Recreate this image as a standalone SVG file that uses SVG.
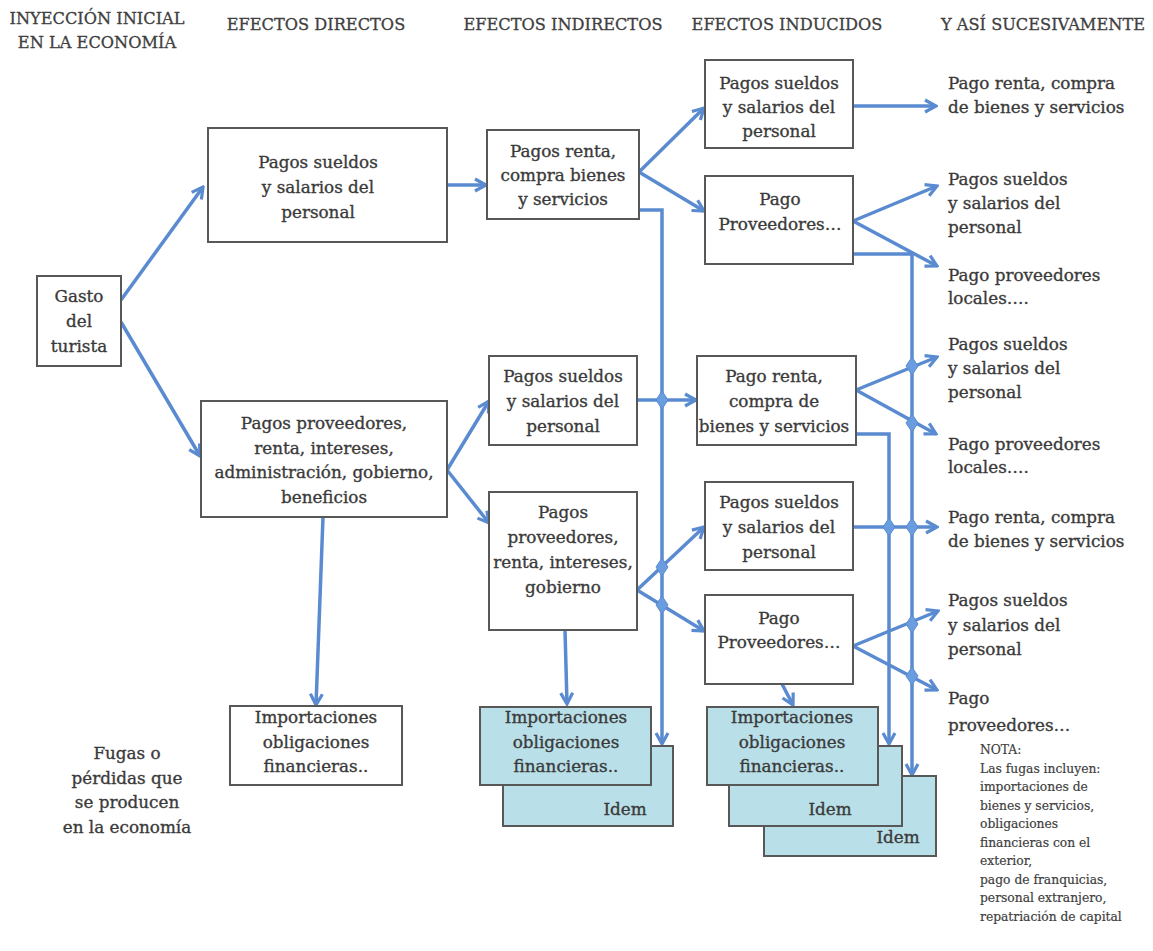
<svg xmlns="http://www.w3.org/2000/svg" width="1153" height="951" viewBox="0 0 1153 951">
<style>
.bx{fill:#fff;stroke:#585858;stroke-width:2}
.lb{fill:#b9dfe8;stroke:#585858;stroke-width:2}
.t{font-family:"DejaVu Serif","Liberation Serif",serif;font-size:16.8px;fill:#3a3a3a;stroke:#3a3a3a;stroke-width:0.35;text-anchor:middle}
.l{font-family:"DejaVu Serif","Liberation Serif",serif;font-size:16.8px;fill:#3a3a3a;stroke:#3a3a3a;stroke-width:0.35}
.h{font-family:"DejaVu Serif","Liberation Serif",serif;font-size:16.2px;fill:#404040;stroke:#404040;stroke-width:0.3;text-anchor:middle}
.n{font-family:"DejaVu Serif","Liberation Serif",serif;font-size:12.3px;fill:#404040;stroke:#404040;stroke-width:0.2}
.c{fill:none;stroke:#5a8bd0;stroke-width:3.5;marker-end:url(#ah)}
.d{fill:#6a9ce0;stroke:#5a8bd0;stroke-width:1}
</style>
<defs>
<marker id="ah" markerUnits="userSpaceOnUse" viewBox="0 0 16 16" markerWidth="16" markerHeight="16" refX="14" refY="8" orient="auto">
<path d="M3,2 L14,8 L3,14" fill="none" stroke="#5a8bd0" stroke-width="3.2" stroke-linejoin="miter"/>
</marker>
</defs>
<rect width="1153" height="951" fill="#fff"/>

<g id="headers">
<text class="h" x="97" y="24">INYECCIÓN INICIAL</text>
<text class="h" x="97" y="48">EN LA ECONOMÍA</text>
<text class="h" x="316" y="30">EFECTOS DIRECTOS</text>
<text class="h" x="563" y="30">EFECTOS INDIRECTOS</text>
<text class="h" x="787" y="30">EFECTOS INDUCIDOS</text>
<text class="h" x="1043" y="30">Y ASÍ SUCESIVAMENTE</text>
</g>

<g id="connectors">
<path class="c" d="M121,300 L203,187"/>
<path class="c" d="M121,322 L200,456"/>
<path class="c" d="M447,185 L486,185"/>
<path class="c" d="M639,172 L704,108"/>
<path class="c" d="M639,172 L704,211"/>
<path class="c" d="M639,210 L662,210 L662,744"/>
<path class="c" d="M853,106 L936,106"/>
<path class="c" d="M853,221 L937,186"/>
<path class="c" d="M853,221 L937,266"/>
<path class="c" d="M853,254 L912,254 L912,775"/>
<path class="c" d="M447,470 L489,401"/>
<path class="c" d="M447,470 L489,523"/>
<path class="c" d="M323,517 L316,705"/>
<path class="c" d="M637,400 L696,400"/>
<path class="c" d="M637,590 L704,527"/>
<path class="c" d="M637,590 L704,631"/>
<path class="c" d="M565,630 L567,704"/>
<path class="c" d="M856,390 L937,357"/>
<path class="c" d="M856,390 L936,434"/>
<path class="c" d="M856,434 L889,434 L889,744"/>
<path class="c" d="M853,527 L937,527"/>
<path class="c" d="M853,646 L938,611"/>
<path class="c" d="M853,646 L937,690"/>
<path class="c" d="M782,684 L793,705"/>
<g id="junctions">
<polygon class="d" points="662,391 668,400 662,409 656,400"/>
<polygon class="d" points="662,558 668,567 662,576 656,567"/>
<polygon class="d" points="662,596 668,605 662,614 656,605"/>
<polygon class="d" points="912,357 918,366 912,375 906,366"/>
<polygon class="d" points="912,414 918,423 912,432 906,423"/>
<polygon class="d" points="889,518 895,527 889,536 883,527"/>
<polygon class="d" points="912,518 918,527 912,536 906,527"/>
<polygon class="d" points="912,615 918,624 912,633 906,624"/>
<polygon class="d" points="912,667 918,676 912,685 906,676"/>
</g>
</g>

<g id="gasto">
<rect class="bx" x="37" y="276" width="84" height="90"/>
<text class="t" x="79" y="302">Gasto</text>
<text class="t" x="79" y="327">del</text>
<text class="t" x="79" y="352">turista</text>
</g>

<g id="directo-sueldos">
<rect class="bx" x="208" y="128" width="239" height="114"/>
<text class="t" x="318" y="168">Pagos sueldos</text>
<text class="t" x="318" y="193">y salarios del</text>
<text class="t" x="318" y="218">personal</text>
</g>

<g id="directo-proveedores">
<rect class="bx" x="201" y="401" width="246" height="116"/>
<text class="t" x="324" y="429">Pagos proveedores,</text>
<text class="t" x="324" y="454">renta, intereses,</text>
<text class="t" x="324" y="478">administración, gobierno,</text>
<text class="t" x="324" y="503">beneficios</text>
</g>

<g id="indirecto-renta">
<rect class="bx" x="487" y="130" width="152" height="89"/>
<text class="t" x="563" y="157">Pagos renta,</text>
<text class="t" x="563" y="181">compra bienes</text>
<text class="t" x="563" y="205">y servicios</text>
</g>

<g id="indirecto-sueldos">
<rect class="bx" x="489" y="356" width="148" height="89"/>
<text class="t" x="563" y="382">Pagos sueldos</text>
<text class="t" x="563" y="407">y salarios del</text>
<text class="t" x="563" y="432">personal</text>
</g>

<g id="indirecto-proveedores">
<rect class="bx" x="489" y="492" width="148" height="138"/>
<text class="t" x="563" y="518">Pagos</text>
<text class="t" x="563" y="543">proveedores,</text>
<text class="t" x="563" y="568">renta, intereses,</text>
<text class="t" x="563" y="593">gobierno</text>
</g>

<g id="inducido-sueldos-1">
<rect class="bx" x="705" y="60" width="148" height="88"/>
<text class="t" x="779" y="89">Pagos sueldos</text>
<text class="t" x="779" y="113">y salarios del</text>
<text class="t" x="779" y="137">personal</text>
</g>

<g id="inducido-proveedores-1">
<rect class="bx" x="705" y="176" width="148" height="88"/>
<text class="t" x="780" y="205">Pago</text>
<text class="t" x="780" y="230">Proveedores…</text>
</g>

<g id="inducido-renta">
<rect class="bx" x="697" y="356" width="159" height="89"/>
<text class="t" x="774" y="382">Pago renta,</text>
<text class="t" x="774" y="407">compra de</text>
<text class="t" x="774" y="432">bienes y servicios</text>
</g>

<g id="inducido-sueldos-2">
<rect class="bx" x="705" y="482" width="148" height="88"/>
<text class="t" x="779" y="508">Pagos sueldos</text>
<text class="t" x="779" y="533">y salarios del</text>
<text class="t" x="779" y="558">personal</text>
</g>

<g id="inducido-proveedores-2">
<rect class="bx" x="705" y="595" width="148" height="89"/>
<text class="t" x="779" y="624">Pago</text>
<text class="t" x="779" y="648">Proveedores…</text>
</g>

<g id="fuga-directa">
<rect class="bx" x="230" y="706" width="172" height="79"/>
<text class="t" x="316" y="723">Importaciones</text>
<text class="t" x="316" y="748">obligaciones</text>
<text class="t" x="316" y="772">financieras..</text>
</g>

<g id="fuga-indirecta">
<rect class="lb" x="503" y="746" width="170" height="80"/>
<text class="t" x="625" y="815">Idem</text>
<rect class="lb" x="480" y="707" width="171" height="78"/>
<text class="t" x="566" y="723">Importaciones</text>
<text class="t" x="566" y="748">obligaciones</text>
<text class="t" x="566" y="772">financieras..</text>
</g>

<g id="fuga-inducida">
<rect class="lb" x="764" y="776" width="172" height="80"/>
<text class="t" x="898" y="843">Idem</text>
<rect class="lb" x="729" y="746" width="173" height="80"/>
<text class="t" x="830" y="815">Idem</text>
<rect class="lb" x="707" y="707" width="171" height="78"/>
<text class="t" x="792" y="723">Importaciones</text>
<text class="t" x="792" y="748">obligaciones</text>
<text class="t" x="792" y="772">financieras..</text>
</g>

<g id="fugas-label">
<text class="t" x="127" y="759">Fugas o</text>
<text class="t" x="127" y="784">pérdidas que</text>
<text class="t" x="127" y="808">se producen</text>
<text class="t" x="127" y="833">en la economía</text>
</g>

<g id="sucesivo-1">
<text class="l" x="948" y="89">Pago renta, compra</text>
<text class="l" x="948" y="113">de bienes y servicios</text>
</g>
<g id="sucesivo-2">
<text class="l" x="948" y="185">Pagos sueldos</text>
<text class="l" x="948" y="209">y salarios del</text>
<text class="l" x="948" y="233">personal</text>
</g>
<g id="sucesivo-3">
<text class="l" x="948" y="281">Pago proveedores</text>
<text class="l" x="948" y="304">locales….</text>
</g>
<g id="sucesivo-4">
<text class="l" x="948" y="350">Pagos sueldos</text>
<text class="l" x="948" y="374">y salarios del</text>
<text class="l" x="948" y="398">personal</text>
</g>
<g id="sucesivo-5">
<text class="l" x="948" y="450">Pago proveedores</text>
<text class="l" x="948" y="473">locales….</text>
</g>
<g id="sucesivo-6">
<text class="l" x="948" y="523">Pago renta, compra</text>
<text class="l" x="948" y="547">de bienes y servicios</text>
</g>
<g id="sucesivo-7">
<text class="l" x="948" y="606">Pagos sueldos</text>
<text class="l" x="948" y="631">y salarios del</text>
<text class="l" x="948" y="655">personal</text>
</g>
<g id="sucesivo-8">
<text class="l" x="948" y="704">Pago</text>
<text class="l" x="948" y="731">proveedores…</text>
</g>

<g id="nota">
<text class="n" x="980" y="754">NOTA:</text>
<text class="n" x="980" y="773">Las fugas incluyen:</text>
<text class="n" x="980" y="791">importaciones de</text>
<text class="n" x="980" y="810">bienes y servicios,</text>
<text class="n" x="980" y="828">obligaciones</text>
<text class="n" x="980" y="847">financieras con el</text>
<text class="n" x="980" y="865">exterior,</text>
<text class="n" x="980" y="884">pago de franquicias,</text>
<text class="n" x="980" y="902">personal extranjero,</text>
<text class="n" x="980" y="921">repatriación de capital</text>
</g>
</svg>
